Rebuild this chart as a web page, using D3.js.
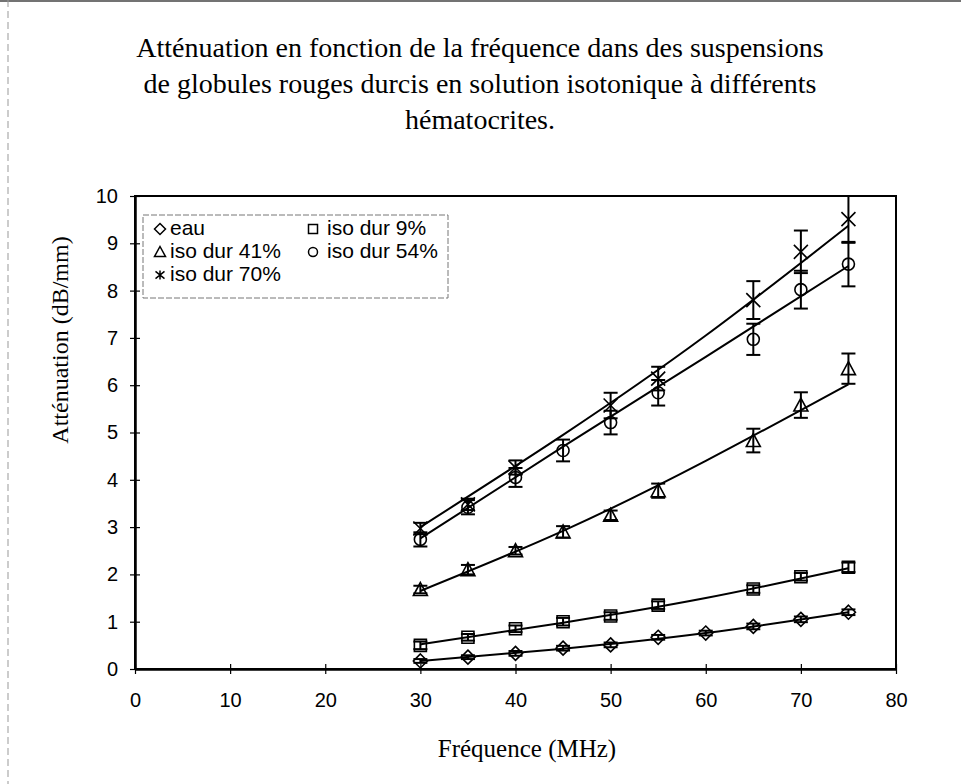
<!DOCTYPE html>
<html>
<head>
<meta charset="utf-8">
<script src="https://cdn.jsdelivr.net/npm/d3@7"></script>
<style>
  html, body { margin: 0; padding: 0; background: #fff; }
  svg { display: block; }
</style>
</head>
<body>
<svg id="chart" width="961" height="784"></svg>
<script>
// ---------------- DATA ----------------
const titleLines = [
  "Atténuation en fonction de la fréquence dans des suspensions",
  "de globules rouges durcis en solution isotonique à différents",
  "hématocrites."
];
const xLabel = "Fréquence (MHz)";
const yLabel = "Atténuation (dB/mm)";
const xTicks = [0, 10, 20, 30, 40, 50, 60, 70, 80];
const yTicks = [0, 1, 2, 3, 4, 5, 6, 7, 8, 9, 10];

const seriesNames = ["eau", "iso dur 9%", "iso dur 41%", "iso dur 54%", "iso dur 70%"];
const seriesSymbols = ["diamond", "square", "triangle", "circle", "cross"];

const freqEau = [30, 35, 40, 45, 50, 55, 60, 65, 70, 75];
const valEau  = [0.17, 0.25, 0.33, 0.44, 0.51, 0.67, 0.76, 0.90, 1.05, 1.20];
const errEau  = [0.04, 0.04, 0.05, 0.05, 0.05, 0.05, 0.05, 0.06, 0.06, 0.06];

const freq9 = [30, 35, 40, 45, 50, 55, 65, 70, 75];
const val9  = [0.50, 0.67, 0.85, 1.00, 1.12, 1.35, 1.69, 1.95, 2.15];
const err9  = [0.08, 0.07, 0.07, 0.08, 0.08, 0.08, 0.08, 0.08, 0.10];

const freq41 = [30, 35, 40, 45, 50, 55, 65, 70, 75];
const val41  = [1.68, 2.10, 2.50, 2.90, 3.25, 3.77, 4.83, 5.58, 6.35];
const err41  = [0.08, 0.10, 0.08, 0.12, 0.10, 0.15, 0.25, 0.27, 0.32];

const freq54 = [30, 35, 40, 45, 50, 55, 65, 70, 75];
const val54  = [2.74, 3.42, 4.05, 4.62, 5.21, 5.84, 6.97, 8.02, 8.56];
const err54  = [0.15, 0.15, 0.20, 0.23, 0.25, 0.27, 0.33, 0.40, 0.47];

const freq70 = [30, 35, 40, 50, 55, 65, 70, 75];
const val70  = [2.97, 3.48, 4.26, 5.57, 6.14, 7.80, 8.82, 9.51];
const err70  = [0.12, 0.12, 0.15, 0.27, 0.25, 0.40, 0.45, 0.50];

// trend lines
const trendFreq = [30, 45, 60, 75];
const trendEau = [0.17, 0.43, 0.76, 1.20];
const trend9   = [0.52, 0.98, 1.50, 2.13];
const trend41  = [1.65, 2.92, 4.40, 6.02];
const trend54  = [2.76, 4.70, 6.60, 8.52];
const trend70  = [3.00, 4.95, 7.05, 9.37];

// ---------------- BUILD ----------------
const series = [
  { name: seriesNames[0], sym: seriesSymbols[0], x: freqEau, y: valEau, e: errEau, t: trendEau },
  { name: seriesNames[1], sym: seriesSymbols[1], x: freq9,   y: val9,   e: err9,   t: trend9 },
  { name: seriesNames[2], sym: seriesSymbols[2], x: freq41,  y: val41,  e: err41,  t: trend41 },
  { name: seriesNames[3], sym: seriesSymbols[3], x: freq54,  y: val54,  e: err54,  t: trend54 },
  { name: seriesNames[4], sym: seriesSymbols[4], x: freq70,  y: val70,  e: err70,  t: trend70 }
];

const svg = d3.select("#chart");
const plot = { left: 135, right: 896, top: 196, bottom: 669 };

const x = d3.scaleLinear().domain([0, 80]).range([plot.left, plot.right]);
const y = d3.scaleLinear().domain([0, 10]).range([plot.bottom, plot.top]);

// outer frame (scanned page border)
svg.append("line").attr("x1", 0).attr("x2", 961).attr("y1", 1).attr("y2", 1)
  .attr("stroke", "#444").attr("stroke-width", 1.5);
svg.append("line").attr("x1", 8).attr("x2", 8).attr("y1", 0).attr("y2", 784)
  .attr("stroke", "#999").attr("stroke-width", 1).attr("stroke-dasharray", "7,4");

// title
svg.append("g").selectAll("text").data(titleLines).join("text")
  .attr("x", 480).attr("y", (d, i) => 57 + i * 36)
  .attr("text-anchor", "middle")
  .style("font-family", "'Liberation Serif', 'Times New Roman', serif")
  .style("font-size", "28px").attr("fill", "#000")
  .text(d => d);

// plot frame
svg.append("rect")
  .attr("x", plot.left).attr("y", plot.top)
  .attr("width", plot.right - plot.left).attr("height", plot.bottom - plot.top)
  .attr("fill", "none").attr("stroke", "#000").attr("stroke-width", 2);

// axes
const tickFont = "'Liberation Sans', Arial, sans-serif";
const yAxis = svg.append("g").attr("transform", `translate(${plot.left},0)`)
  .call(d3.axisLeft(y).tickValues(yTicks).tickFormat(d3.format("d"))
    .tickSizeInner(5).tickSizeOuter(0).tickPadding(12));
yAxis.select(".domain").attr("stroke-width", 2.5);
yAxis.selectAll(".tick line").attr("x1", -5).attr("x2", 5).attr("stroke-width", 1.2);
yAxis.selectAll("text").style("font-family", tickFont).style("font-size", "20px").attr("fill", "#000");

const xAxis = svg.append("g").attr("transform", `translate(0,${plot.bottom})`)
  .call(d3.axisBottom(x).tickValues(xTicks).tickFormat(d3.format("d"))
    .tickSizeInner(5).tickSizeOuter(0).tickPadding(19));
xAxis.select(".domain").attr("stroke-width", 2.5);
xAxis.selectAll(".tick line").attr("y1", -5).attr("y2", 5).attr("stroke-width", 1.2);
xAxis.selectAll("text").style("font-family", tickFont).style("font-size", "20px").attr("fill", "#000");

// axis titles
const serif = "'Liberation Serif', 'Times New Roman', serif";
svg.append("text").attr("x", 527).attr("y", 757).attr("text-anchor", "middle")
  .style("font-family", serif).style("font-size", "25px").text(xLabel);
svg.append("text").attr("transform", "translate(68,340) rotate(-90)")
  .attr("text-anchor", "middle")
  .style("font-family", serif).style("font-size", "24px").text(yLabel);

// symbol paths
function symPath(sym, s) {
  const h = s / 2;
  switch (sym) {
    case "diamond": return `M0,${-h - 1}L${h + 1},0L0,${h + 1}L${-h - 1},0Z`;
    case "square": return `M${-h},${-h}H${h}V${h}H${-h}Z`;
    case "triangle": return `M0,${-h - 1}L${h + 1},${h}L${-h - 1},${h}Z`;
    case "circle": return `M${h},0A${h},${h} 0 1,1 ${-h},0A${h},${h} 0 1,1 ${h},0Z`;
    case "cross": return `M${-h},${-h}L${h},${h}M${h},${-h}L${-h},${h}`;
    case "asterisk": return `M${-h},${-h * 0.8}L${h},${h * 0.8}M${h},${-h * 0.8}L${-h},${h * 0.8}M0,${-h}V${h}`;
  }
}

// trend lines
const trendLine = d3.line().x(d => x(d[0])).y(d => y(d[1])).curve(d3.curveNatural);
series.forEach(s => {
  svg.append("path")
    .datum(trendFreq.map((f, i) => [f, s.t[i]]))
    .attr("d", trendLine)
    .attr("fill", "none").attr("stroke", "#000").attr("stroke-width", 2);
});

// error bars and markers
series.forEach(s => {
  const g = svg.append("g");
  const pts = s.x.map((f, i) => ({ f, v: s.y[i], e: s.e[i] }));
  const cap = 7;
  g.selectAll("line.v").data(pts).join("line").attr("class", "v")
    .attr("x1", d => x(d.f)).attr("x2", d => x(d.f))
    .attr("y1", d => y(Math.min(10, d.v + d.e))).attr("y2", d => y(d.v - d.e))
    .attr("stroke", "#000").attr("stroke-width", 2);
  g.selectAll("line.t").data(pts).join("line").attr("class", "t")
    .attr("x1", d => x(d.f) - cap).attr("x2", d => x(d.f) + cap)
    .attr("y1", d => y(Math.min(10, d.v + d.e))).attr("y2", d => y(Math.min(10, d.v + d.e)))
    .attr("stroke", "#000").attr("stroke-width", 2);
  g.selectAll("line.b").data(pts).join("line").attr("class", "b")
    .attr("x1", d => x(d.f) - cap).attr("x2", d => x(d.f) + cap)
    .attr("y1", d => y(d.v - d.e)).attr("y2", d => y(d.v - d.e))
    .attr("stroke", "#000").attr("stroke-width", 2);
  g.selectAll("path.m").data(pts).join("path").attr("class", "m")
    .attr("transform", d => `translate(${x(d.f)},${y(d.v)})`)
    .attr("d", symPath(s.sym, s.sym === "cross" ? 14 : 12))
    .attr("fill", "none").attr("stroke", "#000").attr("stroke-width", 1.6);
});

// legend
const leg = svg.append("g");
leg.append("rect").attr("x", 143).attr("y", 215).attr("width", 305).attr("height", 83)
  .attr("fill", "#fff").attr("stroke", "#777").attr("stroke-width", 1).attr("stroke-dasharray", "6,2");
const legPos = [
  { sx: 160, tx: 170, y: 235 },
  { sx: 313, tx: 327, y: 235 },
  { sx: 160, tx: 170, y: 258 },
  { sx: 313, tx: 327, y: 258 },
  { sx: 160, tx: 170, y: 281 }
];
series.forEach((s, i) => {
  const p = legPos[i];
  leg.append("path")
    .attr("transform", `translate(${p.sx},${p.y - 6})`)
    .attr("d", symPath(s.sym === "cross" ? "asterisk" : s.sym, 9))
    .attr("fill", "none").attr("stroke", "#000").attr("stroke-width", 1.5);
  leg.append("text").attr("x", p.tx).attr("y", p.y)
    .style("font-family", tickFont).style("font-size", "21px").text(s.name);
});
</script>
</body>
</html>
